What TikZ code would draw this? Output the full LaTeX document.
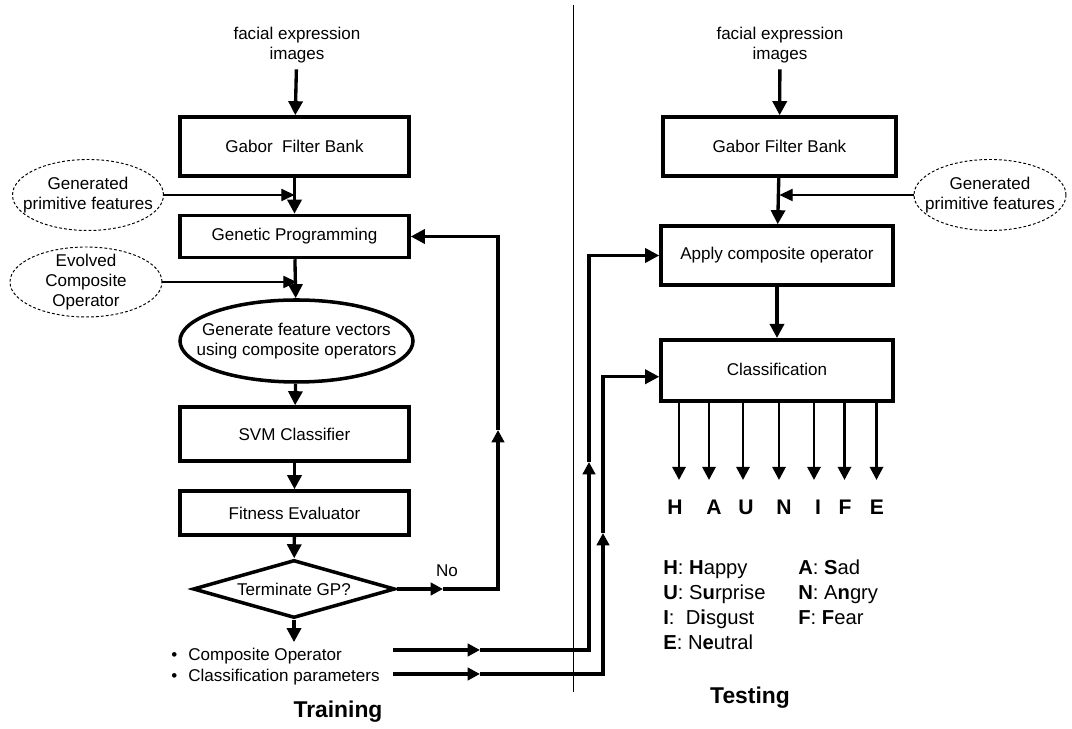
\documentclass[tikz,border=0pt]{standalone}
\usepackage{fontspec}
\setmainfont{Liberation Sans}
\usetikzlibrary{arrows.meta,shapes.geometric}

\begin{document}
\begin{tikzpicture}
	\tikzstyle{every node}=[font=\fontsize{9.7pt}{11.6pt}\selectfont]
	\tikzstyle{block}=[draw, line width=2pt, inner sep=0pt, minimum width=4.58cm]
	\tikzstyle{inputell}=[draw, ellipse, dash pattern=on 1.6pt off 1.2pt, line width=0.55pt, minimum width=3.02cm, minimum height=1.42cm, inner sep=0pt]
	\tikzstyle{mainflow}=[line width=1.9pt, -{Triangle[length=8pt,width=8pt]}]
	\tikzstyle{midflow}=[line width=1.9pt, -{Triangle[length=7pt,width=7pt]}]
	\tikzstyle{feedline}=[line width=0.7pt, -{Triangle[length=7.5pt,width=7pt]}]
	\tikzstyle{legend}=[font=\fontsize{11.5pt}{14pt}\selectfont, anchor=base west, inner sep=0pt]
	\useasboundingbox (0,0) rectangle (21.44,14.58);
	% training side
	\node [align=center] (img1) at (5.94,13.68) {facial expression\\images};
	\node [block, minimum height=1.18cm] (gfb1) at (5.89,11.65) {Gabor\ \ Filter Bank};
	\node [block, minimum height=0.84cm] (gp) at (5.89,9.85) {Genetic Programming};
	\node [inputell, label={[align=center]center:Generated\\primitive features}] (gen1) at (1.76,10.68) {};
	\node [inputell, minimum width=3.04cm, minimum height=1.40cm, label={[align=center]center:Evolved\\Composite\\Operator}] (evo) at (1.72,8.94) {};
	\node [draw, ellipse, line width=2pt, minimum width=4.66cm, minimum height=1.64cm, inner sep=0pt, label={[align=center]center:Generate feature vectors\\using composite operators}] (gfv) at (5.93,7.76) {};
	\node [block, minimum height=1.08cm] (svm) at (5.89,5.90) {SVM Classifier};
	\node [block, minimum height=0.88cm] (fit) at (5.89,4.32) {Fitness Evaluator};
	\node [draw, diamond, aspect=3.48, line width=2pt, inner sep=0pt, minimum width=4.04cm, minimum height=1.16cm] (term) at (5.88,2.80) {Terminate GP?};
	\node [align=left] (outp) at (5.51,1.25) {\textbullet\hspace{0.22cm}Composite Operator\\\textbullet\hspace{0.22cm}Classification parameters};
	\node (no) at (8.94,3.16) {No};
	\node [font=\fontsize{13pt}{15pt}\selectfont\bfseries] (train) at (6.76,0.34) {Training};

	\draw [mainflow] (img1) -- (gfb1);
	\draw [mainflow] (gfb1) -- (gp);
	\draw [feedline] (gen1.east) -- (gen1.east -| gp.north);
	\draw [mainflow] (gp) -- (gfv);
	\draw [feedline] (evo.east) -- (evo.east -| gfv.north);
	\draw [mainflow] (gfv) -- (svm);
	\draw [mainflow] (svm) -- (fit);
	\draw [mainflow] (fit) -- (term);
	\draw [mainflow] (term.south) -- (term.south |- outp.north);

	% GP loop
	\coordinate (nomid) at (8.86,2.80);
	\coordinate (loopup) at (9.96,5.98);
	\draw [midflow] (term.east) -- (nomid);
	\draw [midflow] (nomid) -- (nomid -| loopup) -- (loopup);
	\draw [mainflow] (loopup) -- (loopup |- gp.east) -- (gp.east);

	% divider
	\draw [line width=0.55pt] (11.46,14.48) -- (11.46,0.74);

	% testing side
	\node [align=center] (img2) at (15.6,13.68) {facial expression\\images};
	\node [block, minimum width=4.66cm, minimum height=1.18cm] (gfb2) at (15.59,11.65) {Gabor Filter Bank};
	\node [inputell, minimum width=3.04cm, label={[align=center]center:Generated\\primitive features}] (gen2) at (19.8,10.68) {};
	\node [block, minimum width=4.64cm, minimum height=1.18cm] (apply) at (15.54,9.47) {Apply composite operator};
	\node [block, minimum width=4.64cm, minimum height=1.22cm, anchor=north] (cls) at (15.54,7.82) {};
	\node (clstxt) at (15.54,7.2) {Classification};

	\draw [mainflow] (img2) -- (gfb2);
	\draw [mainflow] (gfb2) -- (apply);
	\draw [feedline] (gen2.west) -- (gen2.west -| gfb2.south);
	\draw [mainflow] (apply) -- (cls);

	% trained results into testing
	\coordinate (co) at (7.86,1.58);
	\coordinate (cp) at (7.86,1.10);
	\coordinate (comid) at (9.6,1.58);
	\coordinate (cpmid) at (9.6,1.10);
	\coordinate (coup) at (11.78,5.34);
	\coordinate (cpup) at (12.06,3.92);
	\coordinate (clsin) at ([yshift=-0.13cm]cls.west);
	\draw [midflow] (co) -- (comid);
	\draw [midflow] (comid) -- (comid -| coup) -- (coup);
	\draw [mainflow] (coup) -- (coup |- apply.west) -- (apply.west);
	\draw [midflow] (cp) -- (cpmid);
	\draw [midflow] (cpmid) -- (cpmid -| cpup) -- (cpup);
	\draw [mainflow] (cpup) -- (cpup |- clsin) -- (clsin);

	% class outputs
	\foreach \x/\lx/\lt [count=\i] in {13.58/13.5/H, 14.18/14.28/A, 14.86/14.92/U, 15.58/15.68/N, 16.28/16.36/I, 16.89/16.9/F, 17.53/17.54/E}{
		\coordinate (o\i) at (\x,4.98);
		\draw [line width=1.6pt, -{Triangle[length=7.5pt,width=7.5pt]}] (cls.south -| o\i) -- (o\i);
		\node [font=\fontsize{12pt}{14pt}\selectfont\bfseries] (l\lt) at (\lx,4.44) {\lt};
	}

	% legend
	\node [legend] (kh) at (13.26,3.08) {\textbf{H}: \textbf{H}appy};
	\node [legend] (ku) at (13.26,2.58) {\textbf{U}: S\textbf{u}rprise};
	\node [legend] (ki) at (13.26,2.08) {\textbf{I}:\ \ D\textbf{i}sgust};
	\node [legend] (ke) at (13.26,1.58) {\textbf{E}: N\textbf{e}utral};
	\node [legend] (ka) at (15.96,3.08) {\textbf{A}: \textbf{S}ad};
	\node [legend] (kn) at (15.96,2.58) {\textbf{N}: A\textbf{n}gry};
	\node [legend] (kf) at (15.96,2.08) {\textbf{F}: \textbf{F}ear};
	\node [font=\fontsize{13pt}{15pt}\selectfont\bfseries] (test) at (15.0,0.62) {Testing};
\end{tikzpicture}
\end{document}
